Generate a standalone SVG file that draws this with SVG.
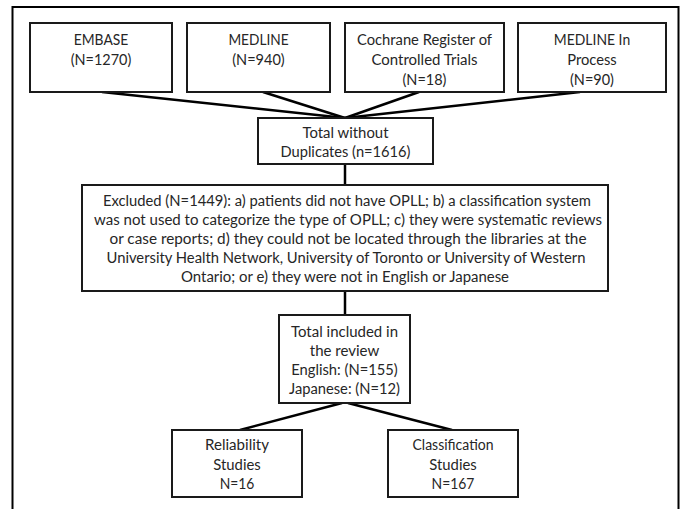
<svg xmlns="http://www.w3.org/2000/svg" width="683" height="509" viewBox="0 0 683 509">
<style>
.box{fill:#fff;stroke:#1a1a1a;stroke-width:2}
.t{font-family:Lato,"Open Sans","Liberation Sans",sans-serif;font-size:15.5px;fill:#262626;text-anchor:middle}
.c{stroke:#000;stroke-width:2.5;fill:none}
</style>
<rect x="0" y="0" width="683" height="509" fill="#fff"/>
<path d="M12.5,515 V7 H678.5 V515" fill="none" stroke="#000" stroke-width="2"/>
<g id="connectors">
<line class="c" x1="102" y1="92" x2="345" y2="118"/>
<line class="c" x1="263" y1="92" x2="345" y2="118"/>
<line class="c" x1="419" y1="92" x2="345" y2="118"/>
<line class="c" x1="580" y1="92" x2="345" y2="118"/>
<line class="c" x1="345" y1="164" x2="345" y2="185"/>
<line class="c" x1="345" y1="291" x2="345" y2="315"/>
<line class="c" x1="342" y1="403" x2="240" y2="430"/>
<line class="c" x1="348" y1="403" x2="452" y2="430"/>
</g>
<g id="embase">
<rect class="box" x="30" y="23" width="142" height="69"/>
<text class="t" x="101" y="45" textLength="54.6" lengthAdjust="spacingAndGlyphs">EMBASE</text>
<text class="t" x="101" y="65" textLength="60.6" lengthAdjust="spacingAndGlyphs">(N=1270)</text>
</g>
<g id="medline">
<rect class="box" x="187" y="23" width="143" height="69"/>
<text class="t" x="258.5" y="45" textLength="60.2" lengthAdjust="spacingAndGlyphs">MEDLINE</text>
<text class="t" x="258.5" y="65" textLength="52.5" lengthAdjust="spacingAndGlyphs">(N=940)</text>
</g>
<g id="cochrane">
<rect class="box" x="345" y="23" width="159" height="69"/>
<text class="t" x="424.5" y="45" textLength="135" lengthAdjust="spacingAndGlyphs">Cochrane Register of</text>
<text class="t" x="424.5" y="65" textLength="106" lengthAdjust="spacingAndGlyphs">Controlled Trials</text>
<text class="t" x="424.5" y="85" textLength="44" lengthAdjust="spacingAndGlyphs">(N=18)</text>
</g>
<g id="medline-in-process">
<rect class="box" x="518" y="23" width="148" height="69"/>
<text class="t" x="592" y="45" textLength="76.3" lengthAdjust="spacingAndGlyphs">MEDLINE In</text>
<text class="t" x="592" y="65" textLength="49.5" lengthAdjust="spacingAndGlyphs">Process</text>
<text class="t" x="592" y="85" textLength="44" lengthAdjust="spacingAndGlyphs">(N=90)</text>
</g>
<g id="total-without-duplicates">
<rect class="box" x="258" y="118" width="175" height="46"/>
<text class="t" x="345.5" y="138" textLength="86" lengthAdjust="spacingAndGlyphs">Total without</text>
<text class="t" x="345.5" y="157" textLength="130" lengthAdjust="spacingAndGlyphs">Duplicates (n=1616)</text>
</g>
<g id="excluded">
<rect class="box" x="82" y="185" width="526" height="106"/>
<text class="t" x="347" y="206" textLength="488" lengthAdjust="spacingAndGlyphs">Excluded (N=1449): a) patients did not have OPLL; b) a classification system</text>
<text class="t" x="348" y="225" textLength="508" lengthAdjust="spacingAndGlyphs">was not used to categorize the type of OPLL; c) they were systematic reviews</text>
<text class="t" x="348" y="244" textLength="477" lengthAdjust="spacingAndGlyphs">or case reports; d) they could not be located through the libraries at the</text>
<text class="t" x="346" y="263" textLength="479" lengthAdjust="spacingAndGlyphs">University Health Network, University of Toronto or University of Western</text>
<text class="t" x="345" y="282" textLength="328" lengthAdjust="spacingAndGlyphs">Ontario; or e) they were not in English or Japanese</text>
</g>
<g id="total-included">
<rect class="box" x="279" y="315" width="131" height="88"/>
<text class="t" x="344.5" y="337" textLength="107" lengthAdjust="spacingAndGlyphs">Total included in</text>
<text class="t" x="344.5" y="356" textLength="69.5" lengthAdjust="spacingAndGlyphs">the review</text>
<text class="t" x="344.5" y="375" textLength="106.5" lengthAdjust="spacingAndGlyphs">English: (N=155)</text>
<text class="t" x="344.5" y="394" textLength="111" lengthAdjust="spacingAndGlyphs">Japanese: (N=12)</text>
</g>
<g id="reliability">
<rect class="box" x="172" y="430" width="130" height="67"/>
<text class="t" x="237" y="450" textLength="64" lengthAdjust="spacingAndGlyphs">Reliability</text>
<text class="t" x="237" y="470" textLength="47.5" lengthAdjust="spacingAndGlyphs">Studies</text>
<text class="t" x="237" y="489" textLength="34.7" lengthAdjust="spacingAndGlyphs">N=16</text>
</g>
<g id="classification">
<rect class="box" x="388" y="430" width="130" height="67"/>
<text class="t" x="453" y="450" textLength="81" lengthAdjust="spacingAndGlyphs">Classification</text>
<text class="t" x="453" y="470" textLength="47.5" lengthAdjust="spacingAndGlyphs">Studies</text>
<text class="t" x="453" y="489" textLength="42.8" lengthAdjust="spacingAndGlyphs">N=167</text>
</g>
</svg>
